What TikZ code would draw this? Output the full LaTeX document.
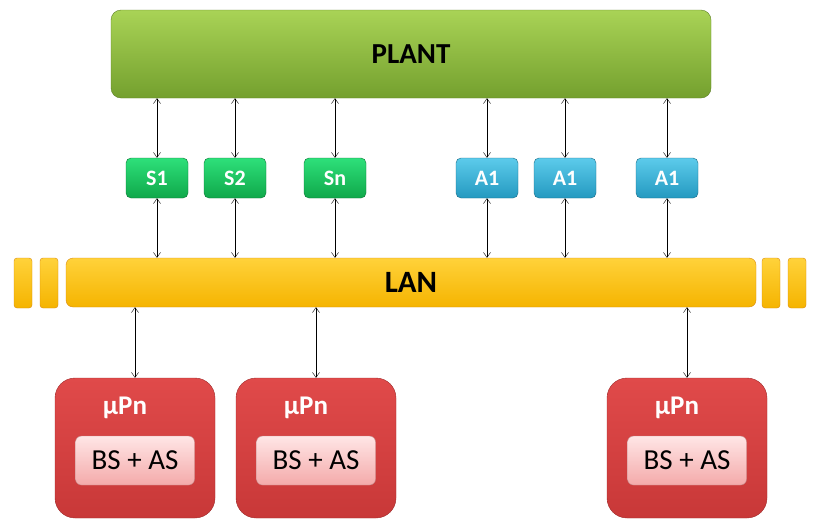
\documentclass[tikz,border=0pt]{standalone}
\usepackage{fontspec}
\setmainfont{Carlito}
\usepackage{tikz}
\usetikzlibrary{arrows.meta, positioning}

\definecolor{plantTop}{HTML}{A9D356}
\definecolor{plantBot}{HTML}{74A02E}
\definecolor{sensTop}{HTML}{2EE07A}
\definecolor{sensBot}{HTML}{0FA84A}
\definecolor{actTop}{HTML}{5CCBEB}
\definecolor{actBot}{HTML}{2499C0}
\definecolor{lanTop}{HTML}{FFD23A}
\definecolor{lanBot}{HTML}{F5B400}
\definecolor{lanEdge}{HTML}{D98A10}
\definecolor{procTop}{HTML}{E04A4A}
\definecolor{procBot}{HTML}{C83838}
\definecolor{innTop}{HTML}{FFE6E6}
\definecolor{innBot}{HTML}{F4AAAA}

\begin{document}
\begin{tikzpicture}[x=1pt, y=-1pt, >={Straight Barb[length=5pt, width=7pt]},
    plantbox/.style={draw=plantBot!80!black, top color=plantTop, bottom color=plantBot, rounded corners=10pt,
        minimum width=600pt, minimum height=88pt, font=\fontsize{29}{31}\selectfont\bfseries},
    sensbox/.style={draw=sensBot!70!black, top color=sensTop, bottom color=sensBot, rounded corners=5pt,
        minimum width=62pt, minimum height=40pt, text=white, font=\fontsize{22}{24}\selectfont\bfseries},
    actbox/.style={sensbox, draw=actBot!70!black, top color=actTop, bottom color=actBot},
    lanbox/.style={draw=lanEdge, top color=lanTop, bottom color=lanBot, rounded corners=7pt,
        minimum width=690pt, minimum height=49pt, font=\fontsize{31}{33}\selectfont\bfseries},
    lanbar/.style={draw=lanEdge, top color=lanTop, bottom color=lanBot, rounded corners=3pt,
        minimum width=18pt, minimum height=50pt},
    procbox/.style={draw=procBot!80!black, top color=procTop, bottom color=procBot, rounded corners=20pt,
        minimum width=160pt, minimum height=140pt},
    innerbox/.style={draw=innBot!80!black, top color=innTop, bottom color=innBot, rounded corners=6pt,
        minimum width=119pt, minimum height=49pt, font=\fontsize{29}{31}\selectfont},
    proclabel/.style={text=white, font=\fontsize{27}{29}\selectfont\bfseries},
    link/.style={<->, thin, black}]

    \useasboundingbox (0,0) rectangle (822,528);

    % plant
    \node[plantbox] (plant) at (411,54) {PLANT};

    % sensors and actuators
    \node[sensbox] (s1) at (157,178) {S1};
    \node[sensbox] (s2) at (235,178) {S2};
    \node[sensbox] (sn) at (335,178) {Sn};
    \node[actbox] (a1) at (487,178) {A1};
    \node[actbox] (a2) at (565,178) {A1};
    \node[actbox] (a3) at (667,178) {A1};

    % network
    \node[lanbox] (lan) at (411,282.5) {LAN};
    \node[lanbar] (bl1) at (23,283) {};
    \node[lanbar] (bl2) at (49,283) {};
    \node[lanbar] (br1) at (771,283) {};
    \node[lanbar] (br2) at (797,283) {};

    % processors
    \foreach \name/\px in {p1/135, p2/316, p3/687} {
        \node[procbox] (\name) at (\px,448) {};
        \node[proclabel] (\name lbl) at (\px-10,408) {μPn};
        \node[innerbox] (\name in) at (\px,460.5) {BS + AS};
    }

    % links
    \foreach \dev in {s1, s2, sn, a1, a2, a3} {
        \draw[link] (\dev.north |- plant.south) -- (\dev.north);
        \draw[link] (\dev.south) -- (\dev.south |- lan.north);
    }
    \foreach \name in {p1, p2, p3}
        \draw[link] (\name.north |- lan.south) -- (\name.north);

\end{tikzpicture}
\end{document}
